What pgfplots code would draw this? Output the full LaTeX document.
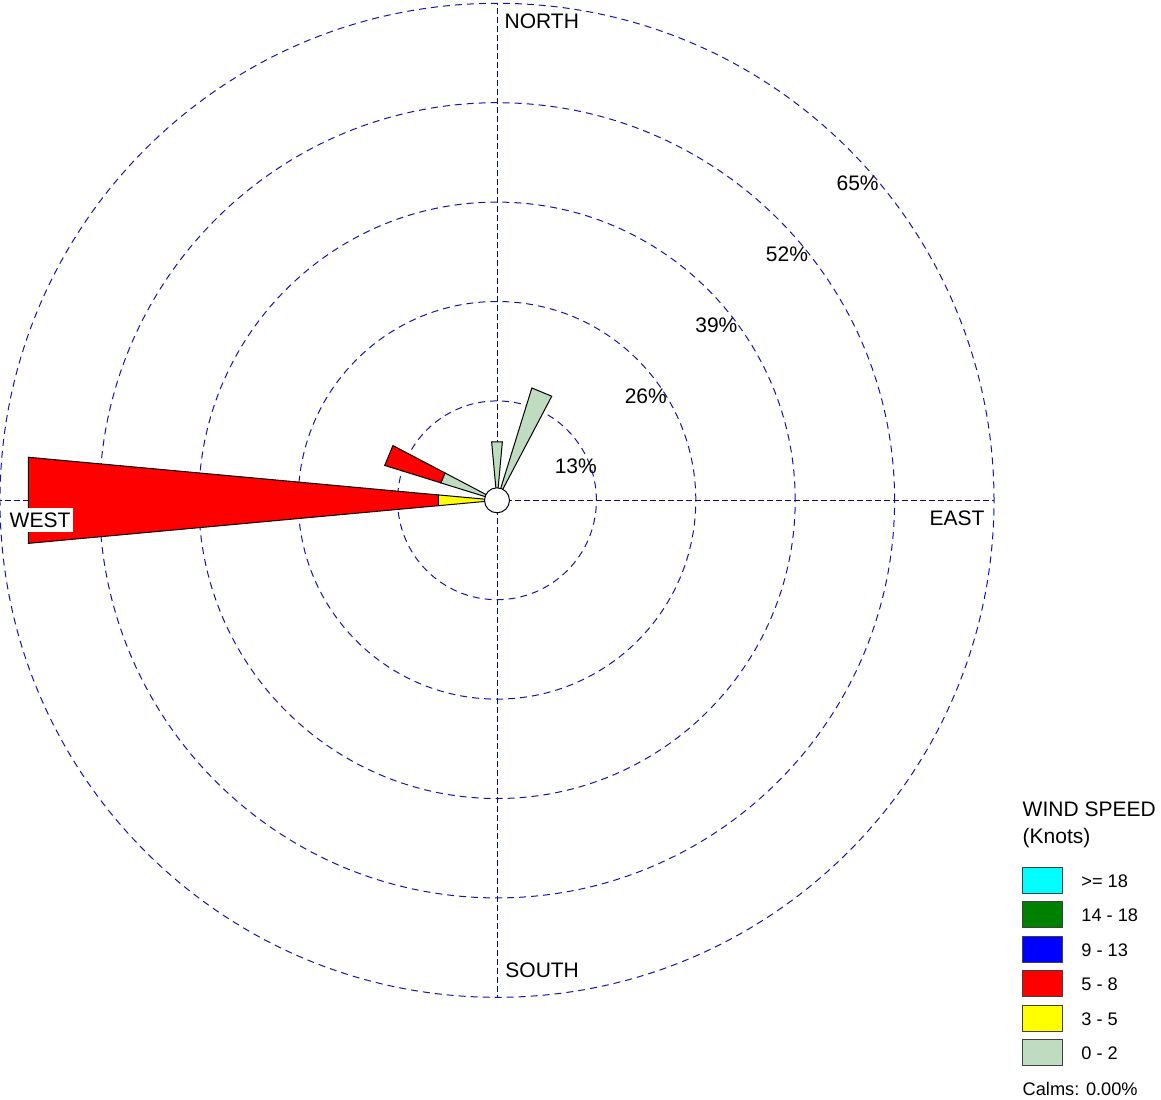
\documentclass[border=0pt]{standalone}
\usepackage{fontspec}
\setmainfont{Liberation Sans}
\usepackage{pgfplots}
\pgfplotsset{compat=1.18}
\usepgfplotslibrary{polar}
\definecolor{ringblue}{RGB}{20,20,170}
\definecolor{axnavy}{RGB}{10,10,120}
\definecolor{calmgreen}{RGB}{192,220,192}
\definecolor{spdgreen}{RGB}{0,128,0}
\definecolor{spdcyan}{RGB}{0,255,255}
\definecolor{spdblue}{RGB}{0,0,255}
\definecolor{spdred}{RGB}{255,0,0}
\definecolor{spdyellow}{RGB}{255,255,0}
\begin{document}
\begin{tikzpicture}[font=\fontsize{10.5}{12.6}\selectfont]
\begin{polaraxis}[
  scale only axis, width=497pt, height=497pt,
  ymin=0, ymax=65, xmin=0, xmax=360,
  enlargelimits=false, clip=false,
  xtick={0,90,180,270}, ytick={13,26,39,52,65},
  xticklabels={}, yticklabels={},
  grid=major,
  x grid style={axnavy, line width=0.5pt, dash pattern=on 3pt off 1.5pt},
  y grid style={ringblue, line width=0.5pt, dash pattern=on 3.5pt off 2.5pt},
  axis line style={draw=none},
  major tick length=0pt,
  legend cell align=left,
  legend style={at={(axis cs:0,0)}, anchor=north west, xshift=262.4pt, yshift=-182.95pt,
    draw=none, fill=none, inner sep=0pt, row sep=3.78pt,
    nodes={inner sep=0pt, font=\fontsize{9.1}{11}\selectfont}},
  legend image code/.code={\draw[#1, draw=black!75, line width=0.5pt] (0pt,-5.4pt) rectangle (20pt,7.6pt); \path[draw=none, fill=none] (20pt,0pt) -- (29.35pt,0pt);},
]
\coordinate (C) at (axis cs:0,0);
% legend entries
\addlegendimage{fill=spdcyan}\addlegendentry{>= 18}
\addlegendimage{fill=spdgreen}\addlegendentry{14 - 18}
\addlegendimage{fill=spdblue}\addlegendentry{9 - 13}
\addlegendimage{fill=spdred}\addlegendentry{5 - 8}
\addlegendimage{fill=spdyellow}\addlegendentry{3 - 5}
\addlegendimage{fill=calmgreen}\addlegendentry{0 - 2}
% WEST (270 deg compass -> 180 math)
\addplot[forget plot, fill=spdyellow, draw=black, line width=0.5pt] coordinates {(174.75,0) (185.25,0) (185.25,7.69) (174.75,7.69)} -- cycle;
\addplot[forget plot, fill=spdred, draw=black, line width=0.5pt] coordinates {(174.75,7.69) (185.25,7.69) (185.25,61.54) (174.75,61.54)} -- cycle;
% WNW (292.5 -> 157.5)
\addplot[forget plot, fill=calmgreen, draw=black, line width=0.5pt] coordinates {(152.25,0) (162.75,0) (162.75,7.69) (152.25,7.69)} -- cycle;
\addplot[forget plot, fill=spdred, draw=black, line width=0.5pt] coordinates {(152.25,7.69) (162.75,7.69) (162.75,15.38) (152.25,15.38)} -- cycle;
% N (0 -> 90)
\addplot[forget plot, fill=calmgreen, draw=black, line width=0.5pt] coordinates {(84.75,0) (95.25,0) (95.25,7.69) (84.75,7.69)} -- cycle;
% NNE (22.5 -> 67.5)
\addplot[forget plot, fill=calmgreen, draw=black, line width=0.5pt] coordinates {(62.25,0) (72.75,0) (72.75,15.38) (62.25,15.38)} -- cycle;
% calms circle
\addplot[forget plot, only marks, mark=*, mark size=6.25pt, mark options={fill=white, draw=black, line width=0.5pt}] coordinates {(0,0)};
\end{polaraxis}
% direction labels
\node[anchor=base west, inner sep=0pt] at ([shift={(3.65pt,236pt)}]C) {NORTH};
\node[anchor=base west, inner sep=0pt] at ([shift={(4pt,-238.5pt)}]C) {SOUTH};
\node[anchor=base west, inner sep=0pt] at ([shift={(216.15pt,-12.7pt)}]C) {EAST};
\node[anchor=base west, fill=white, inner xsep=1.2pt, inner ysep=2.2pt] at ([shift={(-245.05pt,-13.5pt)}]C) {WEST};
% ring labels
\node[anchor=base east, inner sep=0pt] at ([shift={(50.1pt,13.5pt)}]C) {13\%};
\node[anchor=base east, inner sep=0pt] at ([shift={(85.1pt,48.6pt)}]C) {26\%};
\node[anchor=base east, inner sep=0pt] at ([shift={(120.4pt,84pt)}]C) {39\%};
\node[anchor=base east, inner sep=0pt] at ([shift={(155.7pt,119.6pt)}]C) {52\%};
\node[anchor=base east, inner sep=0pt] at ([shift={(191pt,155.1pt)}]C) {65\%};
% legend title and calms
\node[anchor=base west, inner sep=0pt] at ([shift={(262.65pt,-158.2pt)}]C) {WIND SPEED};
\node[anchor=base west, inner sep=0pt] at ([shift={(262.65pt,-171.5pt)}]C) {(Knots)};
\node[anchor=base west, inner sep=0pt, font=\fontsize{9.1}{11}\selectfont] at ([shift={(262.65pt,-297.35pt)}]C) {Calms: 0.00\%};
\pgfresetboundingbox
\path ([shift={(-248.5pt,-299.35pt)}]C) rectangle ([shift={(332pt,250.15pt)}]C);
\end{tikzpicture}
\end{document}
